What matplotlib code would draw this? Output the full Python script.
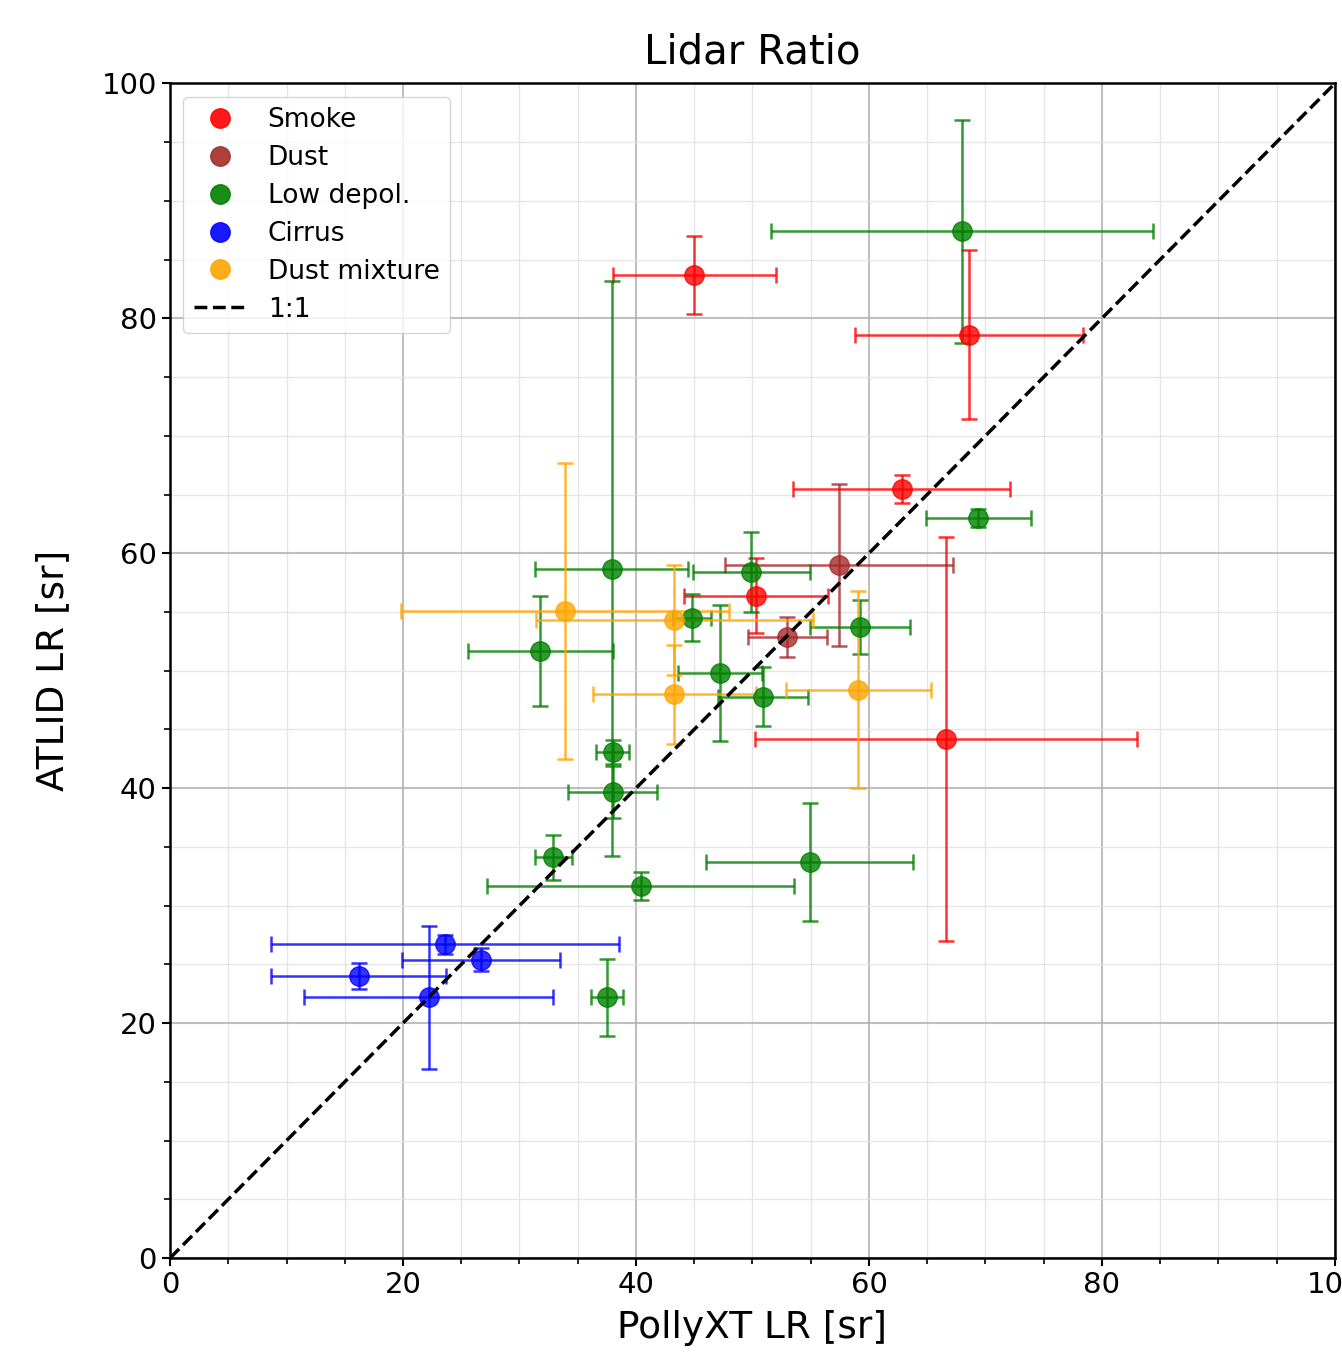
import numpy as np
import matplotlib
matplotlib.use('Agg')
import matplotlib.pyplot as plt
from matplotlib.lines import Line2D
from matplotlib.ticker import MultipleLocator

# data: PollyXT LR (x), ATLID LR (y) with errors, per aerosol type
smoke_x = [45.0, 68.6, 62.8, 50.3, 66.6]
smoke_y = [83.7, 78.6, 65.5, 56.4, 44.2]
smoke_xerr = [7.0, 9.8, 9.3, 6.2, 16.4]
smoke_yerr = [3.3, 7.2, 1.2, 3.2, 17.2]

dust_x = [57.4, 53.0]
dust_y = [59.0, 52.9]
dust_xerr = [9.8, 3.4]
dust_yerr = [6.9, 1.7]

lowdep_x = [68.0, 69.4, 37.9, 31.8, 44.8, 49.9, 59.2, 47.2, 50.9, 38.0, 38.0, 54.9, 40.4, 32.9, 37.5]
lowdep_y = [87.4, 63.0, 58.7, 51.7, 54.5, 58.4, 53.7, 49.8, 47.8, 43.1, 39.7, 33.7, 31.7, 34.1, 22.2]
lowdep_xerr = [16.4, 4.5, 6.6, 6.2, 1.6, 5.0, 4.3, 3.6, 3.9, 1.4, 3.8, 8.9, 13.2, 1.6, 1.4]
lowdep_yerr = [9.5, 0.8, 24.5, 4.7, 2.0, 3.4, 2.3, 5.8, 2.5, 1.0, 2.2, 5.0, 1.2, 1.9, 3.3]

cirrus_x = [23.6, 26.7, 16.2, 22.2]
cirrus_y = [26.7, 25.4, 24.0, 22.2]
cirrus_xerr = [14.9, 6.8, 7.5, 10.7]
cirrus_yerr = [0.8, 1.0, 1.1, 6.1]

dmix_x = [33.9, 43.3, 43.3, 59.1]
dmix_y = [55.1, 54.3, 48.0, 48.4]
dmix_xerr = [14.1, 11.9, 7.0, 6.2]
dmix_yerr = [12.6, 4.7, 4.2, 8.4]

groups = [
    ('Smoke', 'red', smoke_x, smoke_y, smoke_xerr, smoke_yerr),
    ('Dust', 'brown', dust_x, dust_y, dust_xerr, dust_yerr),
    ('Low depol.', 'green', lowdep_x, lowdep_y, lowdep_xerr, lowdep_yerr),
    ('Cirrus', 'blue', cirrus_x, cirrus_y, cirrus_xerr, cirrus_yerr),
    ('Dust mixture', 'orange', dmix_x, dmix_y, dmix_xerr, dmix_yerr),
]

fig = plt.figure(figsize=(13.42, 13.58), dpi=100)
ax = fig.add_axes([0.1267, 0.0736, 0.868, 0.865])

handles = []
for name, col, x, y, xe, ye in groups:
    ax.errorbar(x, y, xerr=xe, yerr=ye, fmt='o', color=col, ms=14,
                elinewidth=1.8, capsize=6, capthick=1.8, alpha=0.8, zorder=3)
    handles.append(Line2D([], [], marker='o', ls='', color=col, ms=14, alpha=0.9, label=name))

ax.plot([0, 100], [0, 100], 'k--', lw=2.5, zorder=4)
handles.append(Line2D([], [], ls='--', color='k', lw=2.5, label='1:1'))

ax.set_xlim(0, 100)
ax.set_ylim(0, 100)
ax.xaxis.set_major_locator(MultipleLocator(20))
ax.yaxis.set_major_locator(MultipleLocator(20))
ax.xaxis.set_minor_locator(MultipleLocator(5))
ax.yaxis.set_minor_locator(MultipleLocator(5))
ax.grid(which='major', color='#b0b0b0', lw=1.5, alpha=0.8)
ax.grid(which='minor', color='#e0e0e0', lw=1.0, alpha=0.8)
ax.set_axisbelow(True)
ax.tick_params(which='major', labelsize=21, length=6, width=1.5)
ax.tick_params(which='minor', length=4, width=1.2)
for s in ax.spines.values():
    s.set_linewidth(1.8)

ax.set_xlabel('PollyXT LR [sr]', fontsize=27, labelpad=8)
ax.set_ylabel('ATLID LR [sr]', fontsize=27, labelpad=22)
ax.set_title('Lidar Ratio', fontsize=29, pad=14)

ax.legend(handles=handles, loc='upper left', fontsize=19, handletextpad=0.8,
          borderaxespad=0.5, labelspacing=0.45, handlelength=2.0)

plt.savefig('out.png', dpi=100)
